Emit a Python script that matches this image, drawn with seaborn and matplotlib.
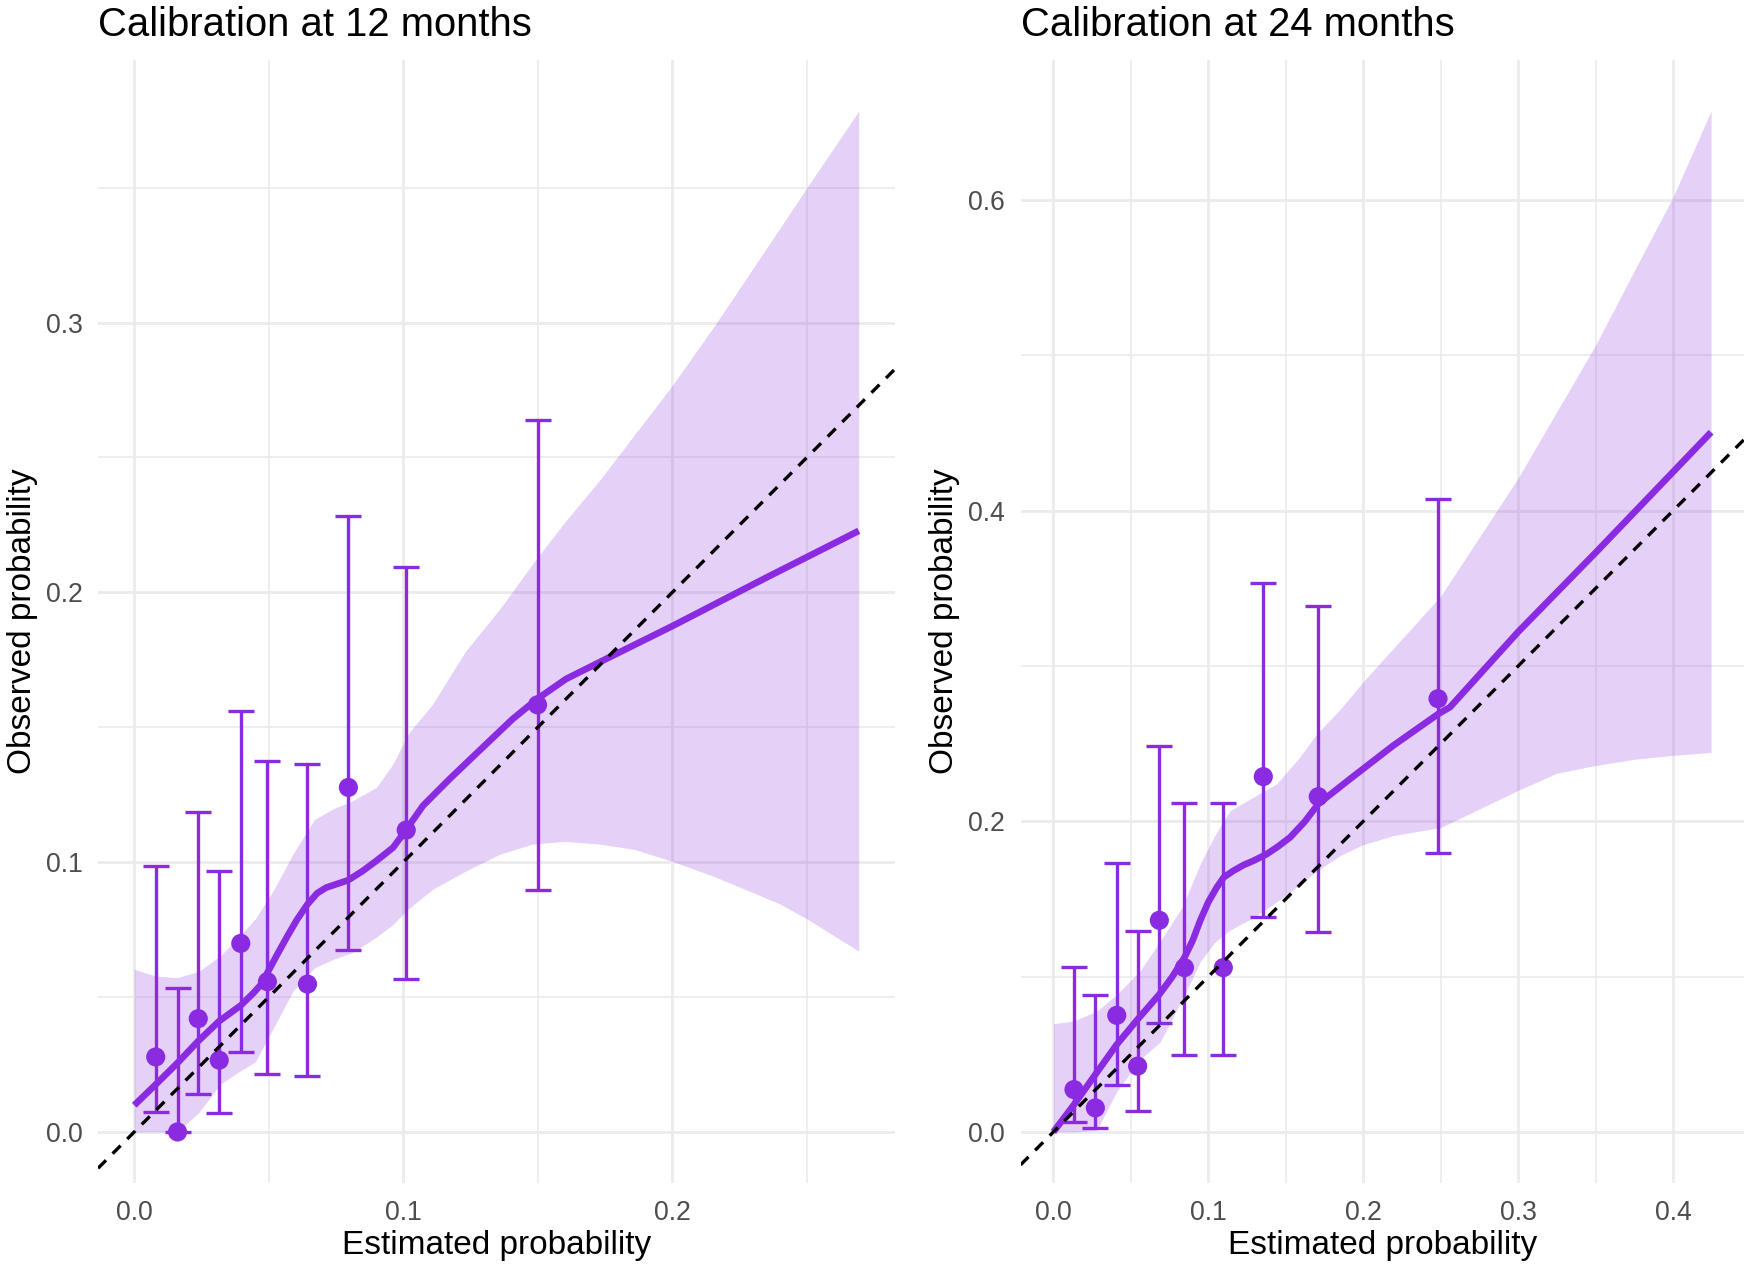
import numpy as np
import pandas as pd
import matplotlib
matplotlib.use("Agg")
import matplotlib.pyplot as plt
import seaborn as sns
from matplotlib.ticker import MultipleLocator, FormatStrFormatter

# ---------------- data: 12 months ----------------
m12_est = [0.0080, 0.0161, 0.0238, 0.0316, 0.0396, 0.0495, 0.0644, 0.0796, 0.1011, 0.1499]
m12_obs = [0.0278, 0.0000, 0.0420, 0.0266, 0.0699, 0.0557, 0.0548, 0.1277, 0.1119, 0.1583]
m12_lo = [0.0073, 0.0000, 0.0139, 0.0069, 0.0297, 0.0213, 0.0208, 0.0676, 0.0566, 0.0897]
m12_hi = [0.0984, 0.0533, 0.1186, 0.0968, 0.1562, 0.1376, 0.1363, 0.2283, 0.2093, 0.2638]

m12_smooth_x = [0.0, 0.008, 0.0161, 0.0238, 0.0316, 0.0396, 0.0442, 0.0470, 0.0495, 0.0530,
                0.0566, 0.0605, 0.0644, 0.0680, 0.0714, 0.0750, 0.0795, 0.0850, 0.090, 0.0962,
                0.101, 0.1073, 0.1172, 0.1296, 0.1407, 0.1498, 0.1605, 0.1729, 0.200, 0.235,
                0.2693]
m12_smooth_y = [0.0099, 0.0176, 0.0256, 0.0337, 0.0411, 0.0469, 0.0514, 0.0545, 0.0590, 0.0655,
                0.0720, 0.0787, 0.0844, 0.0885, 0.0906, 0.0918, 0.0933, 0.0968, 0.1005, 0.1054,
                0.1119, 0.1209, 0.1308, 0.1426, 0.1531, 0.1605, 0.1679, 0.1741, 0.1875, 0.2055,
                0.2228]

m12_band_x = [0.0, 0.008, 0.016, 0.024, 0.032, 0.039, 0.045, 0.052, 0.059, 0.067, 0.074, 0.081,
              0.090, 0.096, 0.102, 0.111, 0.123, 0.136, 0.148, 0.160, 0.173, 0.186, 0.200, 0.216,
              0.240, 0.250, 0.2693]
m12_band_hi = [0.0603, 0.0578, 0.0572, 0.0595, 0.0653, 0.0724, 0.0790, 0.0900, 0.1030, 0.1158,
               0.1198, 0.1227, 0.1277, 0.1361, 0.1478, 0.1587, 0.1780, 0.1940, 0.2105, 0.2260,
               0.2416, 0.2585, 0.2767, 0.2993, 0.3350, 0.3500, 0.3784]
m12_band_lo = [0.0, 0.0, 0.0, 0.0072, 0.0177, 0.0224, 0.0260, 0.0390, 0.0522, 0.0608,
               0.0640, 0.0665, 0.0722, 0.0768, 0.0828, 0.0900, 0.0966, 0.1030, 0.1067, 0.1077,
               0.1067, 0.1047, 0.1003, 0.0945, 0.0845, 0.0790, 0.0670]

# ---------------- data: 24 months ----------------
m24_est = [0.0133, 0.0271, 0.0409, 0.0544, 0.0684, 0.0846, 0.1097, 0.1355, 0.1710, 0.2483]
m24_obs = [0.0273, 0.0155, 0.0751, 0.0424, 0.1363, 0.1058, 0.1058, 0.2288, 0.2159, 0.2790]
m24_lo = [0.0065, 0.0026, 0.0305, 0.0133, 0.0699, 0.0495, 0.0495, 0.1385, 0.1288, 0.1798]
m24_hi = [0.1065, 0.0882, 0.1731, 0.1295, 0.2488, 0.2118, 0.2116, 0.3532, 0.3390, 0.4077]

m24_smooth_x = [0.0, 0.0133, 0.0271, 0.0409, 0.0544, 0.0684, 0.0764, 0.0846, 0.0900, 0.0947,
                0.1000, 0.1054, 0.1100, 0.1162, 0.1230, 0.1291, 0.1377, 0.1450, 0.1528, 0.1620,
                0.171, 0.1915, 0.2194, 0.2485, 0.256, 0.300, 0.350, 0.400, 0.4246]
m24_smooth_y = [0.0, 0.0176, 0.037, 0.0563, 0.0725, 0.0886, 0.0994, 0.1123, 0.1235, 0.1359,
                0.1480, 0.1574, 0.1640, 0.1682, 0.1720, 0.1746, 0.1789, 0.1838, 0.1897, 0.1995,
                0.2112, 0.2273, 0.2488, 0.2692, 0.2735, 0.322, 0.373, 0.425, 0.4506]

m24_band_x = [0.0, 0.013, 0.028, 0.041, 0.056, 0.069, 0.083, 0.095, 0.104, 0.114, 0.129, 0.144,
              0.159, 0.170, 0.185, 0.200, 0.220, 0.250, 0.275, 0.300, 0.325, 0.350, 0.375,
              0.400, 0.4246]
m24_band_hi = [0.0697, 0.0714, 0.0778, 0.0886, 0.1037, 0.1230, 0.1445, 0.1730, 0.1905, 0.2069,
               0.2155, 0.2241, 0.2413, 0.2563, 0.2720, 0.2899, 0.3120, 0.3450, 0.3830, 0.4210,
               0.4638, 0.5066, 0.5545, 0.6020, 0.6574]
m24_band_lo = [0.0, 0.0, 0.0010, 0.0262, 0.0467, 0.0580, 0.0850, 0.1100, 0.1220, 0.1300,
               0.1380, 0.1480, 0.1590, 0.1680, 0.1780, 0.1850, 0.1910, 0.1960, 0.2080, 0.2200,
               0.2310, 0.2360, 0.2400, 0.2425, 0.2444]

titles = ["Calibration at 12 months", "Calibration at 24 months"]
x_label = "Estimated probability"
y_label = "Observed probability"

# ---------------- styling ----------------
sns.set_theme(style="white")
plt.rcParams['font.family'] = ['Liberation Sans', 'DejaVu Sans']

PURPLE = "#8A2BE2"
GRID = "#EBEBEB"
TICK_COL = "#4D4D4D"

fig = plt.figure(figsize=(17.5, 12.66), dpi=100)
W, H = 1750, 1266
ax1 = fig.add_axes([98 / W, 83 / H, 797 / W, 1123 / H])
ax2 = fig.add_axes([1020.5 / W, 83 / H, 723.5 / W, 1123 / H])


def panel(ax, title, est, obs, lo, hi, sx, sy, bx, blo, bhi, xmaj, ymaj):
    pts = pd.DataFrame({"est": est, "obs": obs, "lo": lo, "hi": hi})
    smooth = pd.DataFrame({"x": sx, "y": sy})

    # limits with ggplot-like 5% expansion
    xs = list(est) + list(sx) + list(bx)
    ys = list(obs) + list(lo) + list(hi) + list(sy) + list(blo) + list(bhi)
    xr = max(xs) - min(xs)
    yr = max(ys) - min(ys)
    ax.set_xlim(min(xs) - 0.05 * xr, max(xs) + 0.05 * xr)
    ax.set_ylim(min(ys) - 0.05 * yr, max(ys) + 0.05 * yr)

    # ribbon
    ax.fill_between(bx, blo, bhi, color=PURPLE, alpha=0.22, linewidth=0, zorder=2)

    # error bars
    ax.errorbar(pts["est"], pts["obs"],
                yerr=[pts["obs"] - pts["lo"], pts["hi"] - pts["obs"]],
                fmt="none", ecolor=PURPLE, elinewidth=2.4, capsize=9.6, capthick=2.4,
                zorder=3)
    # points
    sns.scatterplot(data=pts, x="est", y="obs", ax=ax, color=PURPLE, s=190,
                    edgecolor="none", linewidth=0, zorder=4, legend=False)
    # smooth line
    line = sns.lineplot(data=smooth, x="x", y="y", ax=ax, color=PURPLE, linewidth=4.8,
                        zorder=5, sort=False)
    for ln in ax.lines:
        ln.set_solid_joinstyle("round")
        ln.set_solid_capstyle("butt")
    # reference line
    ax.axline((0, 0), slope=1, color="black", linewidth=2.4, linestyle=(0, (3.4, 2.8)),
              zorder=6)

    # grid
    ax.xaxis.set_major_locator(MultipleLocator(xmaj))
    ax.xaxis.set_minor_locator(MultipleLocator(xmaj / 2))
    ax.yaxis.set_major_locator(MultipleLocator(ymaj))
    ax.yaxis.set_minor_locator(MultipleLocator(ymaj / 2))
    ax.xaxis.set_major_formatter(FormatStrFormatter("%.1f"))
    ax.yaxis.set_major_formatter(FormatStrFormatter("%.1f"))
    ax.grid(True, which="major", color=GRID, linewidth=2.0)
    ax.grid(True, which="minor", color=GRID, linewidth=1.2)
    ax.set_axisbelow(True)
    for s in ax.spines.values():
        s.set_visible(False)
    ax.tick_params(axis="both", which="both", length=0, labelsize=19.2,
                   labelcolor=TICK_COL)
    ax.tick_params(axis="x", pad=12)
    ax.tick_params(axis="y", pad=11)

    ax.set_xlabel(x_label, fontsize=24, color="black", labelpad=3)
    ax.set_ylabel(y_label, fontsize=24, color="black", labelpad=6)
    ax.set_title(title, loc="left", fontsize=28.8, color="black", pad=17)


panel(ax1, titles[0], m12_est, m12_obs, m12_lo, m12_hi, m12_smooth_x, m12_smooth_y,
      m12_band_x, m12_band_lo, m12_band_hi, 0.1, 0.1)
panel(ax2, titles[1], m24_est, m24_obs, m24_lo, m24_hi, m24_smooth_x, m24_smooth_y,
      m24_band_x, m24_band_lo, m24_band_hi, 0.1, 0.2)

fig.savefig("out.png", dpi=100, facecolor="white")
